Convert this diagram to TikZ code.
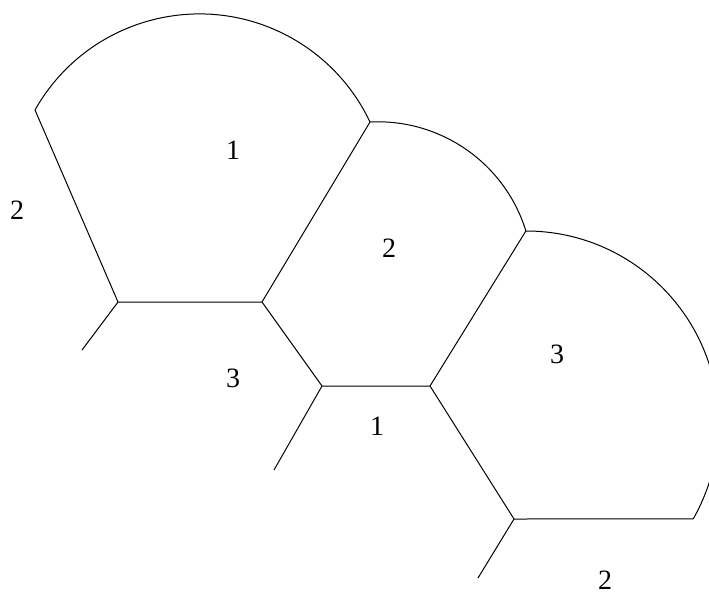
\documentclass[tikz,border=0pt]{standalone}
\usepackage{fontspec}
\setmainfont{Liberation Serif}
\tikzset{cell/.style={line width=1pt, line join=round},
	num/.style={inner sep=0pt, font=\fontsize{28}{30}\selectfont}}
\begin{document}
\begin{tikzpicture}[x=1pt,y=1pt]
			\clip (0,0) rectangle (709,-592);
			\coordinate (a) at (35,-110);
			\coordinate (b) at (370,-122);
			\coordinate (c) at (262,-302);
			\coordinate (d) at (118,-302);
			\coordinate (d1) at (82,-350);
			\coordinate (e) at (526,-231);
			\coordinate (f) at (430,-386);
			\coordinate (g) at (322,-386);
			\coordinate (g1) at (274,-470);
			\coordinate (h) at (514,-519);
			\coordinate (h1) at (478,-578);
			\coordinate (i) at (694,-519);
			\draw[cell] (d1) -- (d) -- (a) arc[start angle=150.6, end angle=25.3, radius=188.7] -- (c) -- (d);
			\draw[cell] (b) arc[start angle=92.9, end angle=17.2, radius=155] -- (f) -- (g) -- (c);
			\draw[cell] (g1) -- (g);
			\draw[cell] (e) arc[start angle=90, end angle=-29.7, radius=192.5] -- (h) -- (f);
			\draw[cell] (h1) -- (h);
			\node[num](n1) at (233,-150){1};
			\node[num](n2) at (17,-210){2};
			\node[num](n3) at (389,-248){2};
			\node[num](n4) at (557,-354){3};
			\node[num](n5) at (233,-378){3};
			\node[num](n6) at (377,-426){1};
			\node[num](n7) at (605,-580){2};
\end{tikzpicture}
\end{document}
